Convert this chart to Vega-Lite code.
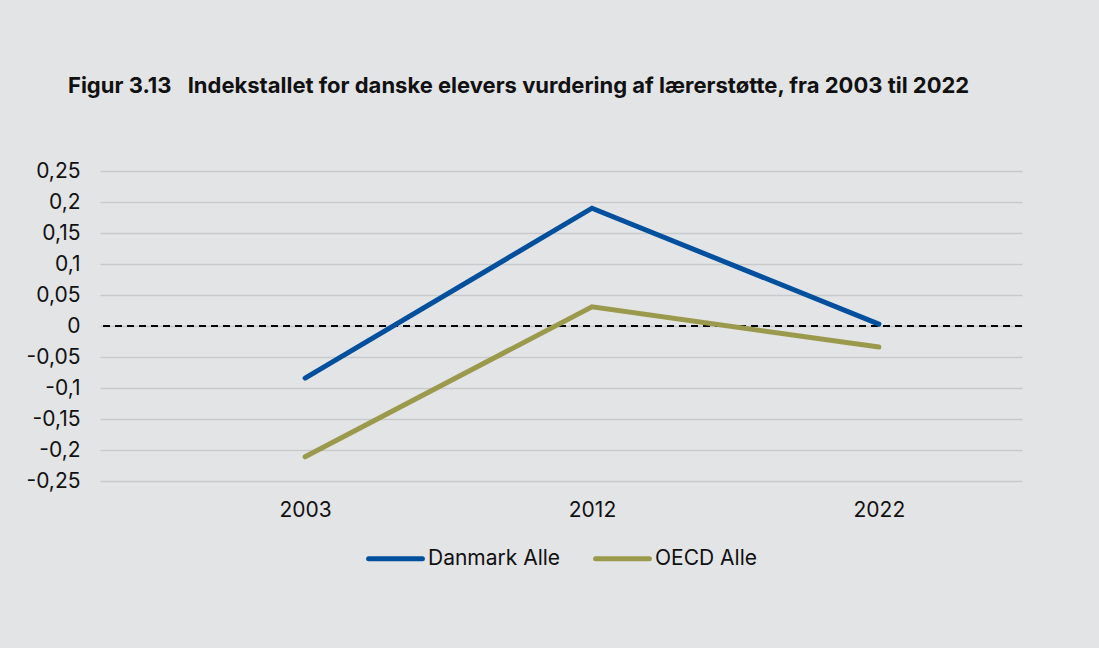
{
  "$schema": "https://vega.github.io/schema/vega-lite/v6.json",
  "width": 922,
  "height": 310,
  "autosize": {"type": "none"},
  "padding": {"left": 100, "top": 171, "right": 77, "bottom": 167},
  "background": "#e3e4e6",
  "config": {
    "view": {"stroke": null},
    "font": "Inter",
    "locale": {"number": {"decimal": ",", "thousands": ".", "grouping": [3], "currency": ["", " kr"], "minus": "-"}},
    "legend": {"layout": {"bottom": {"anchor": "middle"}}}
  },
  "title": {
    "text": "Figur 3.13\u2002 Indekstallet for danske elevers vurdering af lærerstøtte, fra 2003 til 2022",
    "anchor": "start",
    "frame": "group",
    "dx": -32,
    "offset": 62,
    "font": "Inter",
    "fontSize": 22,
    "fontWeight": "bold",
    "color": "#111111"
  },
  "data": {
    "values": [
      {"year": "2003", "series": "Danmark Alle", "value": -0.084},
      {"year": "2012", "series": "Danmark Alle", "value": 0.190},
      {"year": "2022", "series": "Danmark Alle", "value": 0.003},
      {"year": "2003", "series": "OECD Alle", "value": -0.211},
      {"year": "2012", "series": "OECD Alle", "value": 0.031},
      {"year": "2022", "series": "OECD Alle", "value": -0.034}
    ]
  },
  "encoding": {
    "x": {
      "field": "year",
      "type": "ordinal",
      "scale": {"type": "point", "padding": 0.607, "align": 0.589},
      "axis": {"title": null, "labelAngle": 0, "domain": false, "ticks": false, "grid": false, "labelFontSize": 21, "labelColor": "#111111", "labelPadding": 18, "labelFont": "Inter"}
    },
    "y": {
      "field": "value",
      "type": "quantitative",
      "scale": {"domain": [-0.25, 0.25], "nice": false, "zero": false},
      "axis": {
        "title": null,
        "values": [-0.25, -0.2, -0.15, -0.1, -0.05, 0, 0.05, 0.1, 0.15, 0.2, 0.25],
        "format": "~r",
        "domain": false,
        "ticks": false,
        "grid": true,
        "gridColor": "#c8c9cb",
        "gridWidth": 1.5,
        "labelFontSize": 21,
        "labelColor": "#111111",
        "labelPadding": 20,
        "labelFont": "Inter"
      }
    }
  },
  "layer": [
    {
      "mark": {"type": "rule", "color": "#000000", "strokeDash": [7, 5], "strokeWidth": 1.5},
      "encoding": {"y": {"datum": 0}, "x": null}
    },
    {
      "mark": {"type": "line", "strokeWidth": 5, "strokeCap": "round", "strokeJoin": "miter"},
      "encoding": {
        "color": {
          "field": "series",
          "type": "nominal",
          "scale": {"domain": ["Danmark Alle", "OECD Alle"], "range": ["#00509e", "#9b9a4c"]},
          "legend": {
            "title": null,
            "orient": "bottom",
            "direction": "horizontal",
            "offset": 9,
            "symbolType": "stroke",
            "symbolSize": 2900,
            "symbolStrokeWidth": 5,
            "labelFontSize": 21,
            "labelFont": "Inter",
            "labelColor": "#111111",
            "labelOffset": 3,
            "columnPadding": 24,
            "encode": {"symbols": {"update": {"strokeCap": {"value": "round"}}}}
          }
        }
      }
    }
  ]
}
